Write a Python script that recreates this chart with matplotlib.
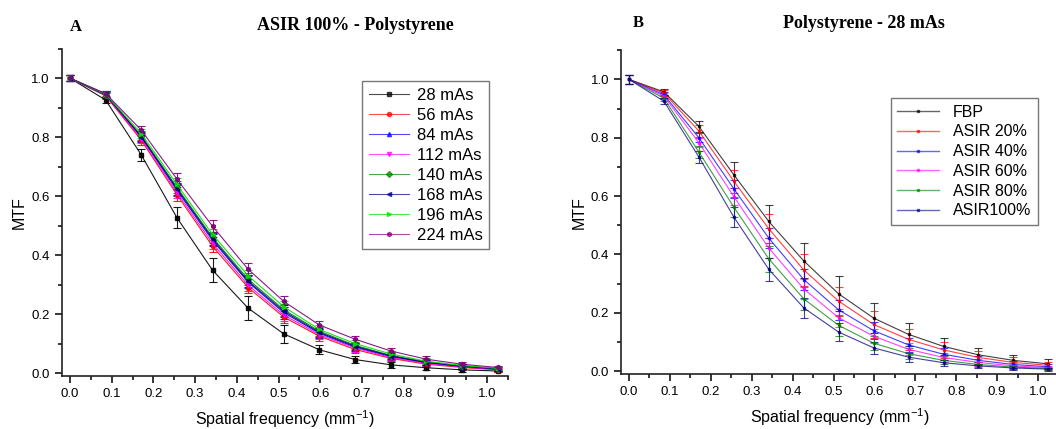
import numpy as np
import matplotlib
matplotlib.use("Agg")
import matplotlib.pyplot as plt
from matplotlib.ticker import MultipleLocator, FormatStrFormatter
from matplotlib.lines import Line2D

plt.rcParams["font.family"] = ["Liberation Sans", "DejaVu Sans"]
plt.rcParams["mathtext.fontset"] = "custom"
plt.rcParams["mathtext.rm"] = "Liberation Sans"
plt.rcParams["mathtext.it"] = "Liberation Sans"

# spatial frequency (mm^-1)
freq = [0.0, 0.0854, 0.1708, 0.2563, 0.3417, 0.4271, 0.5125,
        0.5979, 0.6833, 0.7688, 0.8542, 0.9396, 1.025]

# panel A: ASIR 100% - Polystyrene, one curve per tube load
mas_labels = ["28 mAs", "56 mAs", "84 mAs", "112 mAs",
              "140 mAs", "168 mAs", "196 mAs", "224 mAs"]
mtf_28 = [1.0, 0.926, 0.740, 0.527, 0.349, 0.220, 0.133, 0.079, 0.046, 0.028, 0.018, 0.011, 0.007]
mtf_56 = [1.0, 0.940, 0.790, 0.605, 0.430, 0.290, 0.190, 0.125, 0.080, 0.050, 0.030, 0.019, 0.011]
mtf_84 = [1.0, 0.942, 0.800, 0.620, 0.450, 0.308, 0.205, 0.135, 0.088, 0.056, 0.035, 0.022, 0.013]
mtf_112 = [1.0, 0.943, 0.795, 0.612, 0.440, 0.298, 0.197, 0.130, 0.085, 0.053, 0.033, 0.021, 0.012]
mtf_140 = [1.0, 0.944, 0.805, 0.630, 0.460, 0.318, 0.215, 0.142, 0.094, 0.060, 0.038, 0.024, 0.015]
mtf_168 = [1.0, 0.945, 0.802, 0.625, 0.455, 0.312, 0.210, 0.138, 0.091, 0.058, 0.036, 0.023, 0.014]
mtf_196 = [1.0, 0.946, 0.812, 0.640, 0.470, 0.330, 0.225, 0.148, 0.100, 0.065, 0.040, 0.026, 0.016]
mtf_224 = [1.0, 0.948, 0.824, 0.658, 0.498, 0.352, 0.243, 0.163, 0.115, 0.075, 0.047, 0.030, 0.019]
err_28 = [0.01, 0.01, 0.02, 0.035, 0.04, 0.04, 0.03, 0.015, 0.012, 0.01, 0.008, 0.006, 0.005]
err_mas = [0.01, 0.01, 0.015, 0.02, 0.02, 0.02, 0.02, 0.015, 0.012, 0.01, 0.01, 0.008, 0.006]

# panel B: Polystyrene - 28 mAs, one curve per reconstruction
recon_labels = ["FBP", "ASIR 20%", "ASIR 40%", "ASIR 60%", "ASIR 80%", "ASIR100%"]
mtf_fbp = [1.0, 0.957, 0.839, 0.673, 0.513, 0.378, 0.265, 0.182, 0.126, 0.085, 0.056, 0.037, 0.025]
mtf_a20 = [1.0, 0.953, 0.823, 0.651, 0.488, 0.347, 0.240, 0.160, 0.109, 0.073, 0.047, 0.030, 0.020]
mtf_a40 = [1.0, 0.947, 0.800, 0.625, 0.456, 0.314, 0.210, 0.139, 0.090, 0.058, 0.037, 0.023, 0.015]
mtf_a60 = [1.0, 0.942, 0.783, 0.598, 0.422, 0.282, 0.183, 0.120, 0.075, 0.047, 0.030, 0.018, 0.012]
mtf_a80 = [1.0, 0.935, 0.751, 0.562, 0.385, 0.248, 0.157, 0.096, 0.060, 0.037, 0.023, 0.014, 0.009]
mtf_a100 = [1.0, 0.925, 0.734, 0.528, 0.349, 0.217, 0.134, 0.080, 0.048, 0.029, 0.018, 0.011, 0.007]
err_fbp = [0.015, 0.01, 0.02, 0.045, 0.055, 0.06, 0.06, 0.05, 0.04, 0.03, 0.025, 0.02, 0.015]
err_a20 = [0.015, 0.01, 0.02, 0.04, 0.05, 0.055, 0.05, 0.045, 0.035, 0.028, 0.022, 0.018, 0.012]
err_a40 = [0.015, 0.01, 0.015, 0.03, 0.035, 0.035, 0.035, 0.03, 0.025, 0.02, 0.015, 0.012, 0.008]
err_a60 = [0.015, 0.01, 0.015, 0.03, 0.035, 0.035, 0.03, 0.025, 0.02, 0.016, 0.012, 0.01, 0.007]
err_a80 = [0.015, 0.01, 0.02, 0.035, 0.045, 0.04, 0.035, 0.025, 0.018, 0.014, 0.01, 0.008, 0.006]
err_a100 = [0.015, 0.01, 0.02, 0.035, 0.04, 0.035, 0.03, 0.02, 0.015, 0.01, 0.008, 0.006, 0.005]

mas_curves = [mtf_28, mtf_56, mtf_84, mtf_112, mtf_140, mtf_168, mtf_196, mtf_224]
mas_errs = [err_28] + [err_mas] * 7
mas_colors = ["black", "red", "blue", "magenta", "#008000", "#000080", "#00e000", "#800080"]
mas_markers = ["s", "o", "^", "v", "D", "<", ">", "h"]

recon_curves = [mtf_fbp, mtf_a20, mtf_a40, mtf_a60, mtf_a80, mtf_a100]
recon_errs = [err_fbp, err_a20, err_a40, err_a60, err_a80, err_a100]
recon_colors = ["black", "red", "blue", "magenta", "#008000", "#000080"]

fig = plt.figure(figsize=(10.56, 4.29), dpi=100)
axA = fig.add_axes([0.0584, 0.1235, 0.4226, 0.763])
axB = fig.add_axes([0.5879, 0.128, 0.4145, 0.755])


def style_axis(ax):
    ax.set_xlim(-0.02, 1.05)
    ax.set_ylim(-0.01, 1.1)
    for s in ["top", "right"]:
        ax.spines[s].set_visible(False)
    for s in ["left", "bottom"]:
        ax.spines[s].set_linewidth(1.2)
        ax.spines[s].set_color("#222222")
    ax.xaxis.set_major_locator(MultipleLocator(0.1))
    ax.xaxis.set_minor_locator(MultipleLocator(0.05))
    ax.yaxis.set_major_locator(MultipleLocator(0.2))
    ax.yaxis.set_minor_locator(MultipleLocator(0.1))
    ax.xaxis.set_major_formatter(FormatStrFormatter("%.1f"))
    ax.yaxis.set_major_formatter(FormatStrFormatter("%.1f"))
    ax.tick_params(which="major", direction="out", length=5, width=1.1, labelsize=9.5)
    ax.tick_params(which="minor", direction="out", length=3, width=1.1)
    ax.set_xlabel("Spatial frequency (mm$^{-1}$)", fontsize=11.5, labelpad=6)
    ax.set_ylabel("MTF", fontsize=11.5, labelpad=3)


handlesA = []
for y, e, c, m, lab in zip(mas_curves, mas_errs, mas_colors, mas_markers, mas_labels):
    axA.errorbar(freq, y, yerr=e, color=c, lw=0.8, marker=m, ms=3,
                 ecolor=c, elinewidth=0.8, capsize=3, capthick=0.8, alpha=0.9)
    handlesA.append(Line2D([], [], color=c, lw=0.8, marker=m, ms=3, alpha=0.7, label=lab))
style_axis(axA)
axA.legend(handles=handlesA, loc="upper right", bbox_to_anchor=(0.958, 0.9),
           fontsize=12, fancybox=False, edgecolor="#777777", framealpha=1,
           handlelength=2.4, labelspacing=0.3, borderpad=0.38,
           handletextpad=0.5, borderaxespad=0)

handlesB = []
for y, e, c, lab in zip(recon_curves, recon_errs, recon_colors, recon_labels):
    axB.errorbar(freq, y, yerr=e, color=c, lw=0.8, marker="s", ms=1.8,
                 ecolor=c, elinewidth=0.8, capsize=3, capthick=0.8, alpha=0.75)
    handlesB.append(Line2D([], [], color=c, lw=1.0, marker="s", ms=1.8, alpha=0.6, label=lab))
style_axis(axB)
axB.legend(handles=handlesB, loc="upper right", bbox_to_anchor=(0.953, 0.852),
           fontsize=11.5, fancybox=False, edgecolor="#777777", framealpha=1,
           handlelength=2.6, labelspacing=0.3, borderpad=0.4,
           handletextpad=0.9, borderaxespad=0)

fig.text(0.072, 0.936, "A", fontsize=12, fontweight="bold",
         family="Liberation Serif", ha="center", va="center")
fig.text(0.337, 0.94, "ASIR 100% - Polystyrene", fontsize=13, fontweight="bold",
         family="Liberation Serif", ha="center", va="center")
fig.text(0.604, 0.946, "B", fontsize=12, fontweight="bold",
         family="Liberation Serif", ha="center", va="center")
fig.text(0.818, 0.946, "Polystyrene - 28 mAs", fontsize=13, fontweight="bold",
         family="Liberation Serif", ha="center", va="center")

fig.savefig("out.png", dpi=100)
